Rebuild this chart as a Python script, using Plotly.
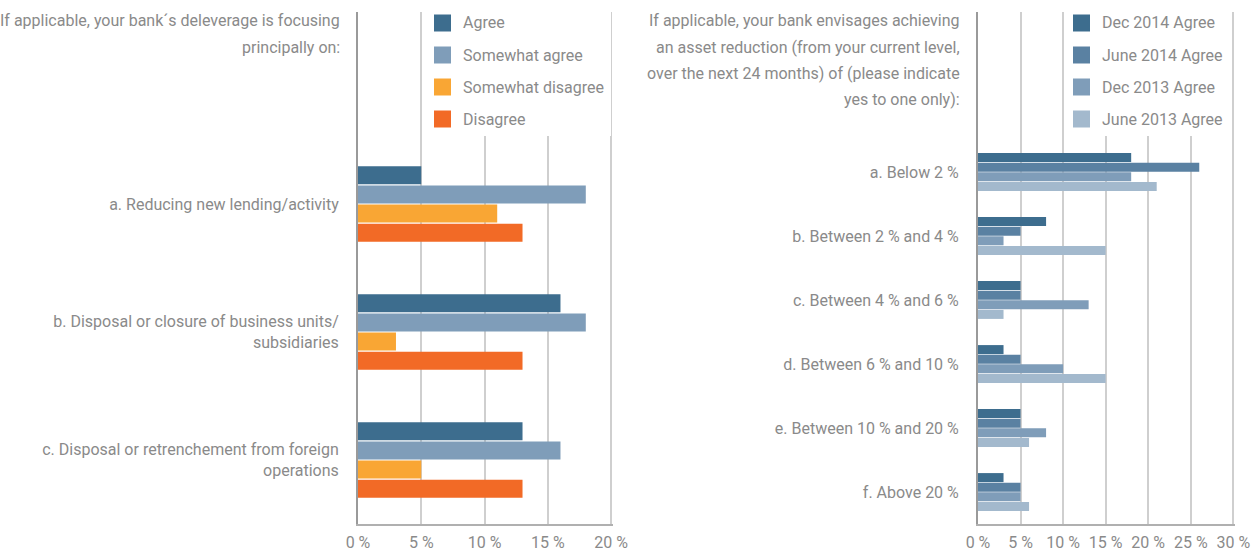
import plotly.graph_objects as go

# Left panel: deleverage focus
focus_categories = [
    "a. Reducing new lending/activity",
    "b. Disposal or closure of business units/<br>subsidiaries",
    "c. Disposal or retrenchement from foreign<br>operations",
]
agree = [5, 16, 13]
somewhat_agree = [18, 18, 16]
somewhat_disagree = [11, 3, 5]
disagree = [13, 13, 13]

# Right panel: envisaged asset reduction
reduction_categories = [
    "a. Below 2 %",
    "b. Between 2 % and 4 %",
    "c. Between 4 % and 6 %",
    "d. Between 6 % and 10 %",
    "e. Between 10 % and 20 %",
    "f. Above 20 %",
]
dec_2014 = [18, 8, 5, 3, 5, 3]
june_2014 = [26, 5, 5, 5, 5, 5]
dec_2013 = [18, 3, 13, 10, 8, 5]
june_2013 = [21, 15, 3, 15, 6, 6]

left_ticks = [0, 5, 10, 15, 20]
right_ticks = [0, 5, 10, 15, 20, 25, 30]

left_title = ["If applicable, your bank´s deleverage is focusing", "principally on:"]
right_title = [
    "If applicable, your bank envisages achieving",
    "an asset reduction (from your current level,",
    "over the next 24 months) of (please indicate",
    "yes to one only):",
]

FONT = "Roboto, Liberation Sans, sans-serif"
FS = 16
GREY = "#8a8a8a"
W, H = 1256, 556


def px_x(v):
    return v / W


def px_y(v):
    return 1 - v / H


fig = go.Figure()

left_series = [
    ("Agree", agree, "#3d6d8e"),
    ("Somewhat agree", somewhat_agree, "#7f9db9"),
    ("Somewhat disagree", somewhat_disagree, "#f9a634"),
    ("Disagree", disagree, "#f26a26"),
]
for name, vals, col in left_series:
    fig.add_trace(go.Bar(
        y=focus_categories, x=vals, name=name, orientation="h",
        marker=dict(color=col, line=dict(width=0)),
        xaxis="x", yaxis="y", showlegend=False,
    ))

right_series = [
    ("Dec 2014 Agree", dec_2014, "#3d6d8e"),
    ("June 2014 Agree", june_2014, "#5a81a2"),
    ("Dec 2013 Agree", dec_2013, "#7f9db9"),
    ("June 2013 Agree", june_2013, "#a3b9cd"),
]
for name, vals, col in right_series:
    fig.add_trace(go.Bar(
        y=reduction_categories, x=vals, name=name, orientation="h",
        marker=dict(color=col, line=dict(width=0)),
        xaxis="x2", yaxis="y2", showlegend=False,
    ))

y_top = px_y(12)
y_bot = px_y(524)

axis_font = dict(family=FONT, size=FS, color=GREY)


def xaxis_cfg(domain, rng, ticks, anchor):
    return dict(
        domain=domain, range=rng, tickvals=ticks, anchor=anchor,
        ticktext=[f"{t} %" for t in ticks], tickangle=0,
        showgrid=True, gridcolor="#cfcfcf", gridwidth=2,
        zeroline=False, showline=True, linecolor="#b0b0b0", linewidth=2,
        ticks="", ticklabelstandoff=3, tickfont=axis_font,
        automargin=False, fixedrange=True,
    )


def yaxis_cfg(anchor, rng):
    return dict(
        domain=[y_bot, y_top], anchor=anchor, type="category", range=rng,
        showline=True, linecolor="#9a9a9a", linewidth=2,
        showgrid=False, ticks="", ticklabelstandoff=14,
        tickfont=axis_font, automargin=False, fixedrange=True,
    )


fig.update_layout(
    width=W, height=H,
    margin=dict(l=0, r=0, t=0, b=0, autoexpand=False),
    paper_bgcolor="white", plot_bgcolor="white",
    barmode="group", bargap=0.4, bargroupgap=0.06,
    font=dict(family=FONT, color=GREY),
    xaxis=xaxis_cfg([px_x(358), px_x(613)], [0, 20.15], left_ticks, "y"),
    yaxis=yaxis_cfg("x", [2.5, -1.5]),
    xaxis2=xaxis_cfg([px_x(978), px_x(1235)], [0, 30.2], right_ticks, "y2"),
    yaxis2=yaxis_cfg("x2", [5.5, -2.5]),
    showlegend=False,
)

# Legend blocks: white panel over the gridlines, a colour swatch and a label per series
def add_legend(series, box_left, box_right, swatch_left):
    fig.add_shape(
        type="rect", xref="paper", yref="paper", layer="above",
        x0=px_x(box_left), x1=px_x(box_right), y0=px_y(136), y1=px_y(11),
        fillcolor="white", line=dict(width=0),
    )
    for i, (name, _, col) in enumerate(series):
        cy = 23 + 32 * i
        fig.add_shape(
            type="rect", xref="paper", yref="paper", layer="above",
            x0=px_x(swatch_left), x1=px_x(swatch_left + 17),
            y0=px_y(cy + 8.5), y1=px_y(cy - 8.5),
            fillcolor=col, line=dict(width=0),
        )
        fig.add_annotation(
            text=name, xref="paper", yref="paper",
            x=px_x(swatch_left + 27), y=px_y(cy),
            xanchor="left", yanchor="middle", showarrow=False,
            font=dict(family=FONT, size=FS, color=GREY),
        )


add_legend(left_series, 424, 611, 434)
add_legend(right_series, 1065, 1232, 1073)


def add_title(lines, right_edge):
    for i, line in enumerate(lines):
        fig.add_annotation(
            text=line, xref="paper", yref="paper",
            x=px_x(right_edge), y=px_y(21 + 26.3 * i),
            xanchor="right", yanchor="middle", align="right", showarrow=False,
            font=dict(family=FONT, size=FS, color=GREY),
        )


add_title(left_title, 342)
add_title(right_title, 962)

fig.write_html("out.html", config={"displayModeBar": False})
